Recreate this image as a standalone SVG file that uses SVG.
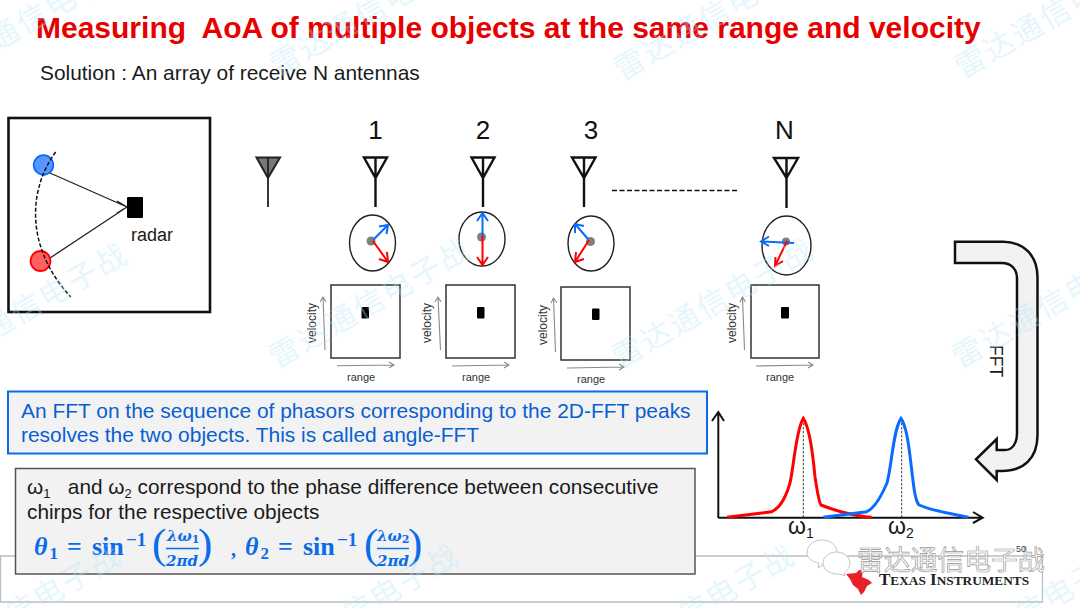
<svg xmlns="http://www.w3.org/2000/svg" width="1080" height="608" viewBox="0 0 1080 608">
<style>
text{font-family:"Liberation Sans",Arial,sans-serif;fill:#1a1a1a}
.wm{font-family:"Noto Sans CJK SC",sans-serif;font-size:30px;fill:#b4e6fb;opacity:.34;letter-spacing:2.500px}
.ant{fill:none;stroke:#111;stroke-width:2.4;stroke-linejoin:miter}
.ph{fill:none;stroke:#222;stroke-width:1.4}
.hub{fill:#808080}
.bl{fill:none;stroke:#0a6cff;stroke-width:2}
.rd{fill:none;stroke:#f00;stroke-width:2}
.sq{fill:#fff;stroke:#333;stroke-width:1.5}
.ga{fill:none;stroke:#8a8a8a;stroke-width:1.1}
.lab{font-size:11px;fill:#333}
.vel{font-size:12px;fill:#333}
.num{font-size:26px;text-anchor:middle;fill:#111}
.eq{font-family:"Liberation Serif",serif;font-weight:bold;fill:#0a6ce8}
.eqi{font-style:italic}
.fr{font-family:"DejaVu Serif",serif;font-weight:bold;font-style:italic;font-size:15px;fill:#0a6ce8}
.par{font-family:"Liberation Serif",serif;font-weight:normal;font-size:43px;fill:#0a6ce8}
</style>
<g id="footer">
<path d="M0.500 556H1042.500V602H0.500Z" fill="none" stroke="#b9bfc2" stroke-width="1.300"/>
<path d="M846 574l10-1 3-3h4l-1 7 7 3 3 3-5 3-3 6-3 3-3-6-5-4-3-6z" fill="#e8202a"/>
<text x="879" y="585" style="font-family:'Liberation Serif',serif;font-size:17px;font-weight:bold;fill:#222"><tspan>T</tspan><tspan font-size="13.300">EXAS</tspan><tspan> I</tspan><tspan font-size="13.300">NSTRUMENTS</tspan></text>
</g>
<g id="title">
<text x="36" y="38" style="font-size:30px;font-weight:bold;fill:#e60000" xml:space="preserve">Measuring  AoA of multiple objects at the same range and velocity</text>
<text x="40" y="80" style="font-size:20.900px">Solution : An array of receive N antennas</text>
</g>
<g id="scene">
<rect x="8.500" y="118" width="201.500" height="194" fill="#fff" stroke="#111" stroke-width="2.600"/>
<circle cx="43.500" cy="165" r="9.800" fill="#5a96ff" stroke="#0a6cff" stroke-width="1.800"/>
<circle cx="40.500" cy="261" r="10" fill="#ff6060" stroke="#f00" stroke-width="1.800"/>
<path d="M55.700 152C29 188 24 246 70.700 297" fill="none" stroke="#111" stroke-width="1.500" stroke-dasharray="4 2"/>
<path d="M50 173L127 207M50 258L127 207M117 201L127 207L117 213" fill="none" stroke="#222" stroke-width="1.300"/>
<rect x="127" y="197" width="16" height="21" rx="1" fill="#000"/>
<text x="131" y="241" style="font-size:18px">radar</text>
</g>
<g id="antenna-gray">
<path d="M256.500 157.500H280L268 178Z" fill="#777" stroke="#222" stroke-width="2"/>
<path d="M268 157.500V207" stroke="#222" stroke-width="1.800" fill="none"/>
</g>
<g id="col-1">
<text class="num" x="375.500" y="139">1</text>
<path class="ant" d="M364 157.500H387L375.500 178ZM375.500 157.500V207"/>
<ellipse class="ph" cx="372.500" cy="243" rx="23" ry="28"/>
<circle class="hub" cx="371" cy="241" r="4.500"/>
<path class="bl" d="M373 240L388 225M379 226.500L388 225L386.500 234"/>
<path class="rd" d="M373 241L388 262M387 252L388 262L379 259"/>
<rect class="sq" x="331" y="285" width="69" height="73"/>
<rect x="361.500" y="307" width="7.500" height="11.500" rx="1"/>
<path class="ga" d="M325 350L323 297M320 302L323 297L326 302M337 365.700L394 365M389 362L394 365L389 368"/>
<text class="vel" transform="translate(316,343) rotate(-90)">velocity</text>
<text class="lab" x="347" y="381">range</text>
</g>
<g id="col-2">
<text class="num" x="483" y="139">2</text>
<path class="ant" d="M471.500 157.500H494.500L483 178ZM483 157.500V207"/>
<ellipse class="ph" cx="482" cy="239" rx="23" ry="27"/>
<circle class="hub" cx="481.500" cy="237" r="4.500"/>
<path class="bl" d="M482.500 236V213M477 221L482.500 213L488 221"/>
<path class="rd" d="M482.500 236V265M477 257L482.500 265L488 257"/>
<rect class="sq" x="446" y="285" width="69" height="73"/>
<rect x="477" y="307" width="7.500" height="11.500" rx="1"/>
<path class="ga" d="M440.500 350L438 297M435 302L438 297L441 302M452 366L509 365M504 362L509 365L504 368"/>
<text class="vel" transform="translate(431,343) rotate(-90)">velocity</text>
<text class="lab" x="462" y="381">range</text>
</g>
<g id="col-3">
<text class="num" x="591" y="139">3</text>
<path class="ant" d="M572 157.500H595.500L584 178ZM584 157.500V207"/>
<ellipse class="ph" cx="591" cy="243.500" rx="23" ry="27.500"/>
<circle class="hub" cx="590.500" cy="241.500" r="4.500"/>
<path class="bl" d="M588 239L575 224M575 233L575 224L584 226"/>
<path class="rd" d="M589 240L575 262M576 252L575 262L584 259"/>
<rect class="sq" x="561" y="287" width="69" height="73"/>
<rect x="592" y="308.500" width="7.500" height="11.500" rx="1"/>
<path class="ga" d="M555.500 352L553.500 298M551 303L553.500 298L557 303M567 368L624 367M619 364L624 367L619 370"/>
<text class="vel" transform="translate(547,345) rotate(-90)">velocity</text>
<text class="lab" x="577" y="383">range</text>
</g>
<path id="gap" d="M612 190.500H739" stroke="#111" stroke-width="1.600" stroke-dasharray="5 2.500" fill="none"/>
<g id="col-n">
<text class="num" x="784.500" y="139">N</text>
<path class="ant" d="M774 158H798L786.500 178ZM786.500 158V208"/>
<ellipse class="ph" cx="786.500" cy="245.500" rx="24.500" ry="29.500"/>
<circle class="hub" cx="786" cy="241.500" r="4"/>
<path class="bl" d="M794 243L761 241.500M769 236.500L761 241.500L769 246"/>
<path class="rd" d="M787 241L775 266M775.500 257L775 266L783 261"/>
<rect class="sq" x="751" y="285" width="68" height="73"/>
<rect x="781" y="307" width="8" height="11.500" rx="1"/>
<path class="ga" d="M744.500 350L742.500 297M740 302L742.500 297L745.500 302M756 366L813 365M808 362L813 365L808 368"/>
<text class="vel" transform="translate(736,343) rotate(-90)">velocity</text>
<text class="lab" x="766" y="381">range</text>
</g>
<g id="fft-arrow">
<path d="M955 241.700H1003C1024 241.700 1037.500 256 1037.500 277V435C1037.500 458 1024 471 1001.700 471L996.700 471V480L976 459.300L996.700 439V450H1005C1012 450 1017 444 1017 433V278C1017 269 1011 263 1001.700 263H955Z" fill="#f2f2f2" stroke="#111" stroke-width="2.500" stroke-linejoin="miter"/>
<text transform="translate(990,345) rotate(90)" style="font-size:17.500px">FFT</text>
</g>
<g id="blue-note">
<rect x="8" y="391.500" width="699" height="62" fill="#f2f2f2" stroke="#0a6ce8" stroke-width="2"/>
<text x="21" y="418" style="font-size:20.950px;fill:#0a5fd0">An FFT on the sequence of phasors corresponding to the 2D-FFT peaks</text>
<text x="21" y="442" style="font-size:20.950px;fill:#0a5fd0">resolves the two objects. This is called angle-FFT</text>
</g>
<g id="gray-note">
<rect x="15.500" y="468.500" width="679.500" height="105.500" fill="#f2f2f2" stroke="#555" stroke-width="1.500"/>
<text x="27" y="494" style="font-size:20.800px" xml:space="preserve">ω<tspan font-size="13" dy="4">1</tspan><tspan dy="-4">   and ω</tspan><tspan font-size="13" dy="4">2</tspan><tspan dy="-4"> correspond to the phase difference between consecutive</tspan></text>
<text x="27" y="519" style="font-size:20.800px">chirps for the respective objects</text>
<g id="equation">
<text class="eq eqi" x="34" y="555" font-size="26">θ</text>
<text class="eq" x="49.500" y="559" font-size="17">1</text>
<text class="eq" x="67" y="555" font-size="26">=</text>
<text class="eq" x="92" y="555" font-size="26">sin</text>
<text class="eq" x="126" y="546" font-size="19">−1</text>
<text class="par" x="152" y="558">(</text>
<text class="fr" x="167" y="541">λω<tspan font-size="11" dy="2" font-style="normal">1</tspan></text>
<path d="M166 548.500H199" stroke="#0a6ce8" stroke-width="1.400"/>
<text class="fr" x="166" y="566">2πd</text>
<text class="par" x="198" y="558">)</text>
<text class="eq" x="231" y="556" font-size="20">,</text>
<text class="eq eqi" x="245" y="555" font-size="26">θ</text>
<text class="eq" x="260.500" y="559" font-size="17">2</text>
<text class="eq" x="278" y="555" font-size="26">=</text>
<text class="eq" x="303" y="555" font-size="26">sin</text>
<text class="eq" x="337" y="546" font-size="19">−1</text>
<text class="par" x="364" y="558">(</text>
<text class="fr" x="377" y="541">λω<tspan font-size="11" dy="2" font-style="normal">2</tspan></text>
<path d="M377 548.500H409" stroke="#0a6ce8" stroke-width="1.400"/>
<text class="fr" x="377" y="566">2πd</text>
<text class="par" x="408" y="558">)</text>
</g>
</g>
<g id="spectrum">
<path d="M803.300 419V518M901.700 419V518" stroke="#444" stroke-width="1" stroke-dasharray="2.500 1.500" fill="none"/>
<path d="M718.300 518V412M712 421L718.300 412L724 421M718.300 517.700H982M973 512L982.700 517.700L973 523" fill="none" stroke="#111" stroke-width="2"/>
<path d="M727 517.300L771.700 511.700C780 508 786 497 790 483C794 465 796 430 803.300 418.300C810 428 813 455 815 477C817 490 819 503 821 505C835 511 860 517 871.700 517.300" fill="none" stroke="#f00" stroke-width="3"/>
<path d="M823.300 517.300L866.700 511.700C875 508 881 497 887 483C892 465 893 430 901 418.300C908 428 910 458 913.300 483C915 497 917 503 919 505C935 512 960 515 968.300 517.300" fill="none" stroke="#0a6cff" stroke-width="3"/>
<text x="788" y="534" style="font-size:23px">ω<tspan font-size="14" dy="4">1</tspan></text>
<text x="888" y="534" style="font-size:23px">ω<tspan font-size="14" dy="4">2</tspan></text>
</g>
<g id="wechat-mark">
<path d="M807 553c0-8 7-13 15-13s15 5 15 13c0 7-7 11-13 11l-6 4 1-5c-7-1-12-5-12-10z" fill="#fff" stroke="#c4c4c4" stroke-width="1"/>
<path d="M823 563c0-6 6-11 13.500-11s13.500 5 13.500 11c0 6-5 9-6 10l1 3-5-2c-9 1-17-4-17-11z" fill="#fff" stroke="#c4c4c4" stroke-width="1"/>
<text x="857" y="570" style="font-family:'Noto Sans CJK SC',sans-serif;font-size:26.800px;fill:#fff;stroke:#9a9a9a;stroke-width:.7">雷达通信电子战</text>
<text x="1016" y="552" style="font-size:9px;fill:#444">50</text>
</g>
<g id="watermark">
<text class="wm" transform="translate(-60,84) rotate(-30)">雷达通信电子战</text>
<text class="wm" transform="translate(278,77) rotate(-30)">雷达通信电子战</text>
<text class="wm" transform="translate(622,81) rotate(-30)">雷达通信电子战</text>
<text class="wm" transform="translate(963,79) rotate(-30)">雷达通信电子战</text>
<text class="wm" transform="translate(-66,374) rotate(-30)">雷达通信电子战</text>
<text class="wm" transform="translate(277,369) rotate(-30)">雷达通信电子战</text>
<text class="wm" transform="translate(620,369) rotate(-30)">雷达通信电子战</text>
<text class="wm" transform="translate(960,369) rotate(-30)">雷达通信电子战</text>
<text class="wm" transform="translate(-72,675) rotate(-30)">雷达通信电子战</text>
<text class="wm" transform="translate(265,675) rotate(-30)">雷达通信电子战</text>
<text class="wm" transform="translate(601,675) rotate(-30)">雷达通信电子战</text>
<text class="wm" transform="translate(938,675) rotate(-30)">雷达通信电子战</text>
</g>
</svg>
